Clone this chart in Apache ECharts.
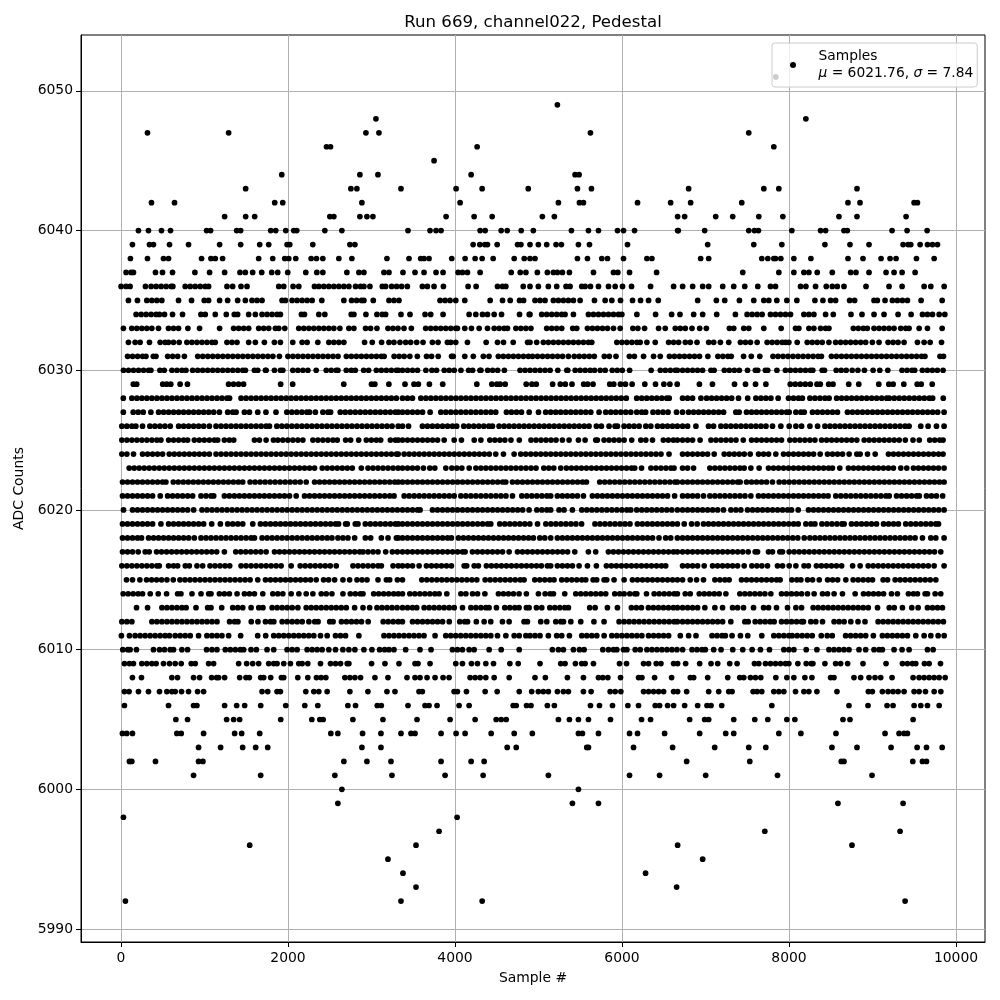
<!DOCTYPE html>
<html><head><meta charset="utf-8">
<style>html,body{margin:0;padding:0;background:#fff}#c{width:1000px;height:1000px}</style>
<script src="https://cdn.jsdelivr.net/npm/echarts@6/dist/echarts.min.js"></script>
</head><body><div id="c"></div>
<script>
const xTicks=[0,2000,4000,6000,8000,10000];
const yTicks=[5990,6000,6010,6020,6030,6040,6050];
const a5992=[53,3353,4325,9390];
const a5993=[3533,6654];
const a5994=[3377,6282];
const a5995=[3197,6966];
const a5996=[1541,3533,6666,8754];
const a5997=[3809,7710,9330];
const a5998=[29,4025];
const a5999=[2597,5406,5718,8586,9366];
const a6000=[2645,5478];
const a6001=[869,1673,2561,3245,3881,4337,5118,6090,6450,7002,7862,8994];
const a6002=[101,129,413,929,981,2669,2945,3233,3833,4193,4349,6774,7530,8626,8658,9482,9598,9646];
const a6003=[929,1193,1457,1613,1757,2885,3113,4625,4733,5578,5598,6138,6606,7110,7518,7722,8514,8814,9222,9534,9646,9834];
const a6004=[17,69,137,669,721,989,1361,1445,1661,2513,2597,2893,3113,3353,3473,3521,3833,4013,4121,4433,4709,4926,5478,5526,5718,6090,6186,6510,6930,7242,7338,7878,8142,8562,9150,9318,9378,9418];
const a6005=[657,797,1265,1349,1421,1913,2285,2381,2421,2777,3137,3545,3941,4241,4493,4553,4613,5238,5370,5478,5598,5862,6234,6342,6810,6990,7038,7338,7590,7746,7974,8070,8646,8730,9486];
const a6006=[41,569,869,909,1241,1385,1481,1673,1973,2201,2357,2717,2809,3069,3117,3437,3641,3689,3785,4049,4169,4697,4733,4857,4910,5106,5190,5622,5730,5886,6070,6198,6398,6450,6546,6618,6750,6906,7018,7066,7194,7794,8718,8946,9174,9246,9498,9578,9658,9798];
const a6007=[41,97,209,329,461,549,609,649,725,809,917,989,1689,1757,1869,1909,2213,2309,2369,2469,2741,2957,3185,3281,3569,3609,3989,4029,4137,4361,4505,4769,4918,4998,5058,5118,5226,5298,5358,5538,5630,5858,5918,5986,6258,6318,6378,6438,6498,6618,6666,6774,7038,7158,7278,7318,7570,7618,7674,7818,7878,7938,8078,8178,8238,8334,8574,8950,8998,9118,9186,9246,9306,9378,9498,9558,9634,9738,9818];
const a6008=[137,245,609,677,869,941,1085,1145,1169,1241,1421,1497,1537,1673,1709,1793,1921,1949,2117,2237,2341,2397,2453,2681,2741,2801,2869,3041,3197,3425,3521,3581,3665,3761,3857,3929,4181,4241,4301,4369,4469,4649,4958,5082,5346,5538,5718,5770,5830,5982,6198,6238,6390,6594,6818,6858,7026,7266,7410,7458,7538,7598,7662,7842,7974,8058,8190,8274,8498,8538,8778,8858,8958,9030,9098,9234,9486,9558,9618,9678,9738,9798,9870];
const a6009=[41,101,149,249,309,369,421,509,581,649,721,841,889,1049,1109,1409,1505,1577,1649,1769,1829,1869,1949,2029,2129,2169,2237,2389,2509,2569,2629,2709,2729,3001,3161,3329,3521,3557,3701,4009,4089,4197,4269,4369,4461,4657,4757,5018,5266,5318,5442,5518,5558,5658,5970,6054,6258,6318,6410,6466,6618,6666,6762,6930,7066,7146,7290,7378,7586,7638,7718,7778,7838,7898,7958,7998,8106,8206,8266,8286,8430,8558,8618,8702,8886,9162,9358,9418,9478,9518,9622,9678,9814];
const a6010=[21,81,109,185,389,461,521,589,629,729,797,1025,1089,1149,1249,1309,1369,1429,1469,1557,1621,1749,1829,1989,2049,2109,2229,2289,2349,2409,2489,2569,2657,2729,2801,2909,3005,3097,3157,3209,3269,3409,3581,3713,3969,4029,4089,4169,4229,4409,4553,4769,5166,5238,5298,5418,5490,5546,5770,5838,5898,5938,6018,6058,6158,6218,6298,6358,6418,6478,6538,6598,6658,6726,6838,6898,6958,6998,7098,7186,7326,7446,7558,7658,7766,7938,7998,8058,8206,8334,8478,8538,8598,8658,8718,8838,8918,9018,9078,9118,9258,9354,9438,9658,9726];
const a6011=[5,101,169,229,289,349,409,469,529,581,649,709,769,829,929,1029,1089,1149,1209,1289,1433,1637,1733,1829,1889,1949,2009,2069,2129,2189,2249,2309,2389,2469,2569,2629,2689,2849,3149,3209,3269,3329,3389,3449,3509,3569,3629,3761,3889,3949,4009,4069,4129,4189,4249,4309,4369,4429,4509,4609,4709,4769,4849,4898,4958,5018,5118,5218,5278,5370,5518,5578,5638,5698,5786,5878,5938,5998,6058,6118,6178,6238,6318,6378,6438,6498,6558,6698,6798,6886,7078,7138,7198,7238,7318,7418,7506,7674,7818,7878,7938,7998,8038,8098,8158,8218,8278,8386,8458,8518,8678,8738,8798,8858,8918,9010,9118,9178,9238,9298,9358,9418,9518,9618,9698,9786,9858];
const a6012=[10,70,130,370,430,490,550,610,670,730,790,850,910,970,1030,1090,1150,1300,1360,1400,1560,1640,1730,1790,1830,1930,1990,2050,2110,2170,2250,2320,2360,2500,2540,2640,2700,2760,2820,2880,2960,3140,3200,3260,3320,3370,3491,3551,3611,3671,3731,3791,3851,3931,4057,4117,4150,4255,4349,4428,4568,4648,4827,4867,5027,5099,5207,5267,5299,5387,5506,5664,5785,5965,6025,6085,6145,6205,6265,6325,6385,6445,6505,6565,6625,6663,6725,6785,6845,6905,6965,7025,7085,7145,7205,7303,7471,7511,7595,7655,7715,7775,7822,7910,7970,8030,8090,8150,8173,8261,8321,8401,8540,8600,8660,8740,8826,8910,9067,9127,9187,9247,9307,9367,9427,9487,9547,9607,9667,9727,9787,9849];
const a6013=[186,318,490,550,610,670,730,780,898,1038,1078,1206,1338,1398,1458,1558,1650,1700,1810,1870,1930,1990,2050,2118,2218,2278,2338,2398,2458,2518,2578,2638,2698,2798,2898,2978,3066,3126,3186,3246,3306,3371,3431,3491,3542,3630,3690,3750,3810,3870,3930,3990,4090,4190,4250,4310,4370,4408,4496,4596,4656,4716,4767,4855,4887,4975,5039,5135,5195,5255,5315,5358,5613,5678,5825,5945,6112,6172,6232,6316,6376,6436,6496,6556,6616,6663,6725,6785,6845,6905,6992,7112,7204,7324,7384,7455,7575,7695,7755,7850,7982,8082,8150,8289,8349,8409,8469,8529,8589,8649,8709,8769,8829,8889,8949,9060,9200,9260,9358,9470,9546,9658,9718,9778,9837];
const a6014=[26,86,146,206,258,350,446,546,678,718,850,958,1050,1078,1178,1238,1298,1390,1478,1538,1598,1698,1818,1878,1938,2038,2130,2218,2298,2398,2458,2526,2658,2746,2806,2866,2898,3026,3086,3146,3206,3266,3320,3371,3459,3519,3579,3639,3699,3759,3810,3902,4070,4130,4210,4270,4358,4520,4580,4640,4700,4767,4855,4999,5079,5139,5179,5314,5446,5506,5566,5626,5686,5746,5805,5913,5973,6025,6093,6153,6177,6293,6385,6445,6505,6565,6625,6663,6757,6817,6925,6985,7045,7105,7164,7244,7411,7471,7531,7591,7651,7711,7782,7910,7970,8030,8090,8150,8221,8301,8401,8461,8540,8640,8792,8892,8952,9012,9072,9132,9227,9298,9430,9490,9538,9630,9658,9750,9817];
const a6015=[66,138,226,306,366,426,486,550,626,706,766,826,886,946,1006,1066,1126,1186,1246,1306,1366,1426,1486,1546,1638,1730,1790,1850,1910,1970,2030,2090,2150,2210,2270,2338,2426,2486,2558,2658,2738,2826,2886,2946,3078,3178,3218,3310,3371,3602,3662,3722,3782,3842,3902,3962,4022,4082,4142,4202,4261,4361,4421,4481,4541,4601,4661,4721,4781,4827,4955,5015,5075,5135,5186,5278,5338,5398,5458,5518,5566,5654,5697,5785,5817,5905,6025,6125,6185,6245,6305,6365,6425,6485,6545,6605,6663,6725,6817,6893,6976,7112,7172,7232,7283,7431,7491,7551,7611,7671,7731,7791,7851,7894,8034,8094,8142,8222,8282,8362,8462,8522,8582,8680,8768,8828,8888,8948,9000,9127,9180,9271,9331,9391,9451,9511,9571,9631,9691,9758];
const a6016=[10,70,130,190,250,310,370,430,458,570,630,678,770,818,910,978,1066,1126,1186,1246,1302,1438,1498,1558,1618,1678,1738,1798,1858,1918,2038,2146,2206,2266,2326,2386,2446,2506,2578,2778,2838,2898,2958,3018,3078,3118,3258,3320,3371,3431,3491,3570,3658,3718,3778,3838,3898,3957,4110,4140,4230,4280,4376,4436,4496,4556,4616,4676,4736,4796,4856,4916,4976,5034,5106,5146,5226,5286,5346,5406,5486,5586,5693,5813,5873,5933,5993,6053,6113,6173,6233,6293,6353,6413,6473,6523,6725,6785,6845,6905,6984,7084,7144,7204,7264,7324,7384,7463,7555,7615,7675,7742,7862,7922,8002,8082,8180,8232,8328,8388,8448,8508,8568,8630,8762,8852,8948,9008,9068,9128,9188,9248,9308,9368,9428,9488,9548,9608,9668,9738,9857];
const a6017=[18,78,138,206,290,338,426,486,546,606,666,726,786,846,906,966,1026,1086,1146,1238,1374,1434,1494,1554,1614,1674,1738,1838,1898,1958,2018,2078,2138,2198,2258,2318,2378,2438,2498,2558,2618,2678,2738,2798,2858,2898,2958,3018,3078,3170,3250,3310,3371,3431,3491,3551,3611,3671,3731,3791,3851,3911,3971,4031,4091,4121,4209,4269,4329,4389,4449,4509,4569,4648,4748,4808,4868,4928,4988,5048,5108,5168,5228,5288,5348,5434,5597,5685,5837,5897,5957,6017,6077,6137,6197,6257,6317,6377,6437,6497,6557,6617,6663,6725,6785,6845,6905,6965,7025,7085,7145,7205,7265,7325,7385,7445,7511,7595,7623,7754,7802,7890,7922,8002,8062,8122,8182,8242,8302,8362,8422,8482,8542,8602,8662,8722,8782,8842,8902,8962,9022,9082,9142,9202,9262,9322,9382,9442,9502,9562,9622,9682,9742,9817];
const a6018=[18,78,138,198,246,330,390,450,510,570,630,690,750,810,878,958,1018,1078,1138,1198,1258,1318,1378,1438,1498,1558,1598,1690,1750,1810,1870,1930,1990,2050,2110,2170,2230,2290,2350,2410,2470,2526,2598,2658,2718,2798,2926,2990,3118,3198,3298,3320,3371,3431,3491,3551,3611,3671,3731,3791,3851,3911,3957,4041,4101,4161,4221,4281,4341,4401,4461,4521,4581,4641,4701,4761,4821,4881,4939,5015,5075,5146,5226,5286,5346,5406,5466,5526,5586,5646,5706,5766,5826,5886,5946,6006,6066,6126,6186,6246,6306,6366,6443,6523,6583,6663,6725,6785,6845,6905,6965,7025,7085,7145,7205,7265,7325,7385,7445,7505,7565,7625,7685,7745,7805,7865,7925,7985,8045,8105,8182,8250,8310,8370,8430,8490,8550,8610,8670,8730,8790,8850,8910,8970,9030,9090,9150,9210,9270,9330,9390,9450,9510,9598,9698,9758,9857];
const a6019=[18,78,138,198,258,318,378,478,570,630,690,750,810,870,930,990,1086,1190,1278,1338,1398,1458,1578,1670,1730,1790,1850,1910,1970,2030,2090,2150,2210,2270,2330,2390,2450,2510,2570,2606,2690,2710,2806,2838,2926,2986,3046,3106,3166,3226,3286,3320,3371,3431,3491,3551,3611,3671,3731,3791,3851,3911,3971,4031,4091,4151,4211,4271,4331,4391,4428,4536,4596,4656,4716,4776,4836,4896,4988,5088,5148,5208,5268,5328,5388,5448,5516,5676,5736,5796,5856,5916,5976,6036,6095,6184,6244,6304,6364,6424,6484,6544,6604,6663,6745,6833,6900,6976,7036,7096,7156,7216,7276,7336,7396,7456,7516,7576,7636,7696,7756,7816,7876,7936,7996,8056,8110,8202,8262,8310,8394,8454,8514,8574,8634,8660,8748,8808,8868,8928,8988,9048,9132,9192,9252,9310,9398,9458,9518,9578,9638,9698,9758,9790];
const a6020=[30,138,198,258,318,378,438,498,558,618,678,738,798,870,970,1030,1090,1150,1210,1270,1330,1390,1450,1510,1570,1630,1690,1750,1810,1870,1930,1990,2050,2110,2170,2230,2290,2350,2410,2470,2530,2590,2650,2710,2770,2830,2890,2950,3010,3070,3130,3190,3250,3310,3371,3431,3491,3551,3582,3730,3790,3850,3910,3970,4030,4090,4150,4210,4270,4330,4390,4450,4510,4570,4630,4690,4750,4810,4887,4980,5040,5100,5146,5246,5306,5406,5518,5578,5638,5698,5758,5818,5878,5938,5998,6058,6105,6176,6236,6296,6356,6416,6476,6536,6596,6663,6725,6785,6845,6905,6965,7025,7085,7145,7215,7304,7364,7423,7503,7563,7623,7683,7743,7803,7863,7923,7983,8030,8110,8233,8293,8353,8413,8473,8533,8593,8653,8713,8773,8833,8893,8953,9013,9073,9133,9193,9253,9313,9373,9433,9493,9553,9613,9673,9733,9793,9857];
const a6021=[18,78,138,198,258,318,378,470,558,618,678,738,798,858,958,1018,1078,1110,1238,1298,1358,1418,1478,1538,1598,1658,1718,1778,1838,1898,1958,2018,2098,2198,2258,2318,2378,2438,2498,2558,2618,2678,2738,2798,2858,2918,2978,3038,3098,3158,3218,3270,3391,3451,3511,3571,3631,3691,3751,3811,3871,3931,3990,4070,4130,4190,4250,4310,4370,4430,4490,4550,4610,4688,4800,4860,4920,4980,5040,5100,5146,5226,5286,5346,5406,5466,5538,5645,5705,5765,5825,5885,5945,6005,6065,6125,6185,6245,6305,6365,6425,6485,6545,6630,6725,6785,6845,6905,6976,7052,7112,7172,7232,7292,7352,7412,7472,7543,7634,7694,7754,7814,7874,7934,7994,8054,8114,8174,8234,8294,8354,8414,8468,8560,8620,8680,8740,8800,8860,8920,8980,9040,9100,9160,9200,9288,9348,9408,9468,9528,9560,9646,9706,9766,9840];
const a6022=[18,78,138,198,258,318,378,438,498,538,626,686,746,806,866,926,986,1046,1106,1166,1226,1286,1346,1406,1458,1546,1606,1666,1726,1786,1846,1906,1966,2026,2086,2146,2218,2318,2378,2438,2498,2558,2618,2678,2738,2798,2858,2918,2978,3038,3098,3158,3218,3278,3320,3371,3431,3491,3551,3611,3671,3731,3791,3851,3911,3971,4031,4091,4151,4211,4271,4331,4391,4451,4511,4571,4608,4688,4748,4808,4868,4928,4988,5048,5108,5168,5228,5288,5348,5408,5468,5528,5574,5733,5793,5853,5913,5973,6033,6093,6153,6213,6273,6333,6393,6453,6513,6573,6633,6663,6725,6785,6845,6905,6965,7025,7085,7145,7205,7265,7325,7385,7415,7491,7551,7611,7671,7731,7802,7882,7942,8002,8062,8122,8182,8242,8302,8362,8422,8482,8542,8602,8662,8722,8782,8842,8902,8962,9022,9082,9142,9202,9262,9322,9382,9442,9502,9562,9622,9682,9742,9802,9857];
const a6023=[98,158,218,278,338,398,458,518,578,638,698,758,818,878,938,998,1058,1118,1178,1238,1298,1358,1418,1478,1538,1598,1658,1718,1778,1838,1898,1958,2018,2078,2138,2198,2258,2318,2410,2470,2530,2590,2650,2710,2770,2878,2958,3018,3078,3138,3198,3258,3318,3371,3431,3491,3551,3622,3698,3758,3890,3962,4022,4082,4170,4250,4310,4370,4430,4490,4550,4610,4670,4730,4790,4850,4910,4970,5063,5123,5183,5266,5334,5394,5454,5514,5574,5634,5694,5754,5814,5874,5934,5994,6054,6114,6152,6234,6346,6406,6466,6526,6586,6623,6725,6785,6857,7052,7112,7172,7232,7292,7352,7412,7463,7543,7642,7754,7814,7874,7934,7994,8054,8114,8174,8234,8294,8354,8414,8474,8520,8608,8712,8772,8832,8892,8952,9012,9070,9130,9190,9250,9338,9410,9490,9550,9610,9670,9730,9790,9857];
const a6024=[10,70,150,258,318,378,438,498,578,638,698,758,818,878,938,998,1058,1138,1198,1258,1318,1378,1438,1498,1558,1618,1678,1738,1798,1858,1918,1978,2038,2098,2158,2218,2278,2338,2398,2458,2518,2578,2638,2698,2758,2818,2878,2938,2998,3058,3118,3178,3238,3298,3320,3391,3451,3511,3571,3631,3691,3751,3811,3871,3931,3991,4051,4111,4171,4231,4291,4351,4411,4488,4580,4708,4787,4847,4907,4967,5027,5087,5147,5207,5267,5327,5387,5447,5507,5567,5627,5687,5747,5807,5867,5927,5987,6047,6107,6167,6227,6287,6347,6407,6467,6563,6725,6785,6845,6905,6965,7025,7104,7224,7284,7344,7404,7464,7535,7635,7695,7755,7842,7934,7994,8054,8114,8174,8234,8294,8373,8461,8521,8581,8641,8720,8812,8852,8940,9032,9191,9251,9311,9371,9431,9491,9551,9611,9671,9731,9791,9845];
const a6025=[10,70,130,190,250,310,370,430,478,570,630,690,750,798,878,938,998,1058,1118,1158,1238,1298,1350,1598,1658,1738,1826,1878,1938,1998,2058,2118,2178,2298,2358,2418,2478,2538,2590,2690,2750,2846,2938,2998,3058,3110,3226,3286,3320,3371,3431,3491,3551,3611,3671,3731,3791,3870,3990,4077,4230,4310,4417,4477,4537,4597,4670,4770,4910,4970,5030,5090,5150,5210,5286,5366,5478,5558,5685,5705,5785,5845,5905,5965,6025,6116,6225,6285,6365,6495,6555,6615,6663,6725,6785,6845,6935,7065,7125,7185,7245,7305,7365,7452,7551,7611,7671,7731,7791,7851,7910,8010,8070,8130,8190,8250,8310,8390,8450,8510,8570,8630,8690,8750,8812,8900,8960,9020,9080,9140,9200,9260,9320,9393,9485,9560,9685,9745,9805,9845];
const a6026=[10,70,130,178,258,346,406,466,526,590,690,750,810,870,930,990,1058,1138,1198,1258,1318,1378,1438,1498,1558,1618,1678,1738,1778,1866,1926,1986,2046,2106,2166,2226,2286,2346,2406,2466,2526,2586,2646,2706,2766,2826,2886,2946,3006,3066,3126,3186,3246,3320,3371,3443,3610,3670,3730,3790,3850,3910,3970,4020,4105,4165,4225,4285,4345,4405,4448,4528,4588,4648,4708,4768,4828,4888,4948,5008,5068,5128,5188,5248,5308,5368,5428,5488,5548,5605,5693,5753,5845,5917,5945,6025,6085,6145,6205,6285,6345,6425,6485,6545,6605,6663,6725,6785,6885,7036,7096,7184,7244,7304,7364,7424,7484,7544,7604,7664,7724,7802,7902,8002,8082,8150,8250,8342,8430,8490,8550,8610,8670,8730,8790,8850,8910,8970,9030,9090,9150,9210,9270,9330,9390,9438,9578,9666,9766,9857];
const a6027=[28,146,206,266,358,450,510,570,630,690,750,810,870,930,990,1050,1110,1178,1278,1338,1378,1478,1538,1638,1736,1856,1986,2046,2106,2166,2226,2258,2328,2418,2478,2510,2626,2686,2746,2806,2866,2926,2986,3046,3106,3166,3226,3286,3320,3371,3431,3491,3551,3611,3702,3830,3890,3950,4010,4070,4130,4190,4250,4310,4370,4430,4488,4616,4676,4736,4796,4888,5000,5086,5146,5206,5266,5326,5386,5446,5506,5566,5626,5725,5805,5865,5925,5985,6045,6105,6176,6236,6283,6371,6431,6491,6551,6653,6725,6797,6857,6917,6977,7037,7097,7157,7216,7363,7403,7491,7551,7611,7671,7731,7791,7851,7911,7971,8002,8082,8142,8182,8281,8341,8401,8461,8521,8580,8700,8760,8820,8880,8940,9000,9060,9120,9180,9240,9300,9360,9420,9480,9540,9600,9660,9720,9780,9857];
const a6028=[28,130,190,250,310,370,430,490,550,610,670,730,790,850,910,970,1030,1090,1150,1210,1270,1300,1438,1498,1558,1618,1678,1738,1798,1858,1918,1978,2038,2098,2158,2218,2278,2338,2398,2458,2518,2578,2638,2698,2758,2818,2878,2938,2998,3058,3118,3178,3238,3298,3371,3431,3490,3591,3651,3711,3771,3831,3891,3951,4011,4071,4131,4191,4251,4311,4371,4431,4491,4551,4611,4671,4731,4791,4851,4911,4971,5031,5091,5151,5211,5271,5331,5391,5451,5511,5571,5631,5691,5751,5811,5871,5931,5991,6051,6176,6236,6296,6356,6416,6476,6536,6565,6725,6785,6845,6945,7013,7073,7133,7193,7253,7313,7395,7505,7603,7663,7723,7783,7870,7994,8054,8114,8160,8250,8310,8370,8430,8480,8570,8630,8690,8750,8810,8870,8930,8990,9050,9110,9170,9200,9260,9320,9380,9440,9500,9560,9620,9680,9720,9847];
const a6029=[148,188,500,548,596,708,796,1288,1348,1408,1468,1912,2056,2668,3000,3040,3208,3401,3509,3561,3693,3853,4261,4441,4501,4541,4601,4853,4921,4973,5169,5261,5321,5401,5541,5589,5653,5853,5901,5981,6041,6121,6273,6401,6501,6573,6661,6927,7083,7347,7479,7599,7723,8015,8075,8135,8195,8255,8335,8375,8475,8527,8715,8835,9075,9195,9247,9375,9535,9583,9715];
const a6030=[30,90,150,210,270,330,358,466,518,610,670,730,778,858,918,978,1038,1098,1158,1218,1278,1338,1398,1458,1490,1598,1638,1730,1738,1838,1910,1938,2058,2118,2178,2238,2338,2458,2518,2578,2598,2698,2758,2806,2906,2966,3058,3118,3178,3238,3298,3320,3371,3431,3491,3551,3651,3723,3779,3871,3931,3991,4071,4163,4211,4299,4311,4391,4451,4511,4591,4779,4839,4899,4959,5019,5079,5139,5231,5339,5351,5439,5499,5559,5619,5671,5739,5799,5883,5943,6003,6091,6349,6459,6519,6579,6639,6663,6725,6785,6845,6905,6965,7065,7103,7225,7285,7345,7405,7503,7597,7625,7717,7745,7855,7957,8017,8077,8137,8197,8257,8285,8397,8425,8565,8625,8685,8757,8825,8903,9007,9087,9183,9353,9413,9473,9505,9597,9657,9717,9777,9845];
const a6031=[79,139,199,259,299,387,419,559,619,679,759,919,979,1039,1099,1159,1219,1279,1339,1399,1459,1519,1579,1639,1699,1759,1819,1897,1999,2059,2119,2179,2239,2299,2359,2419,2479,2539,2599,2699,2759,2819,2879,2939,2999,3059,3119,3151,3271,3331,3391,3459,3549,3659,3719,3799,3959,3979,4117,4219,4339,4407,4519,4579,4639,4699,4759,4819,4879,4928,4988,5048,5108,5168,5228,5288,5358,5428,5488,5548,5608,5668,5788,5848,5928,6088,6148,6258,6378,6458,6568,6628,6688,6748,6808,6868,6928,7028,7148,7208,7268,7308,7456,7548,7650,7808,7868,7928,7988,8048,8108,8168,8228,8288,8348,8388,8508,8568,8628,8688,8748,8808,8868,8928,8988,9048,9108,9168,9228,9288,9348,9408,9468,9528,9588,9628,9808,9850];
const a6032=[89,169,229,341,469,529,569,629,697,789,849,909,969,1029,1089,1129,1269,1329,1389,1529,1609,1717,1837,1909,2057,2169,2229,2357,2489,2549,2609,2669,2917,3009,3121,3209,3269,3341,3409,3469,3541,3617,3729,3797,3909,3949,4009,4149,4373,4509,4581,4697,4869,4898,4978,5058,5118,5178,5238,5298,5358,5418,5478,5538,5598,5638,5938,5998,6058,6118,6178,6218,6298,6398,6558,6618,6678,6758,6818,6898,7038,7098,7178,7278,7418,7478,7538,7618,7738,7798,7858,7918,7958,7998,8098,8218,8278,8338,8398,8478,8558,8618,8678,8738,8798,8858,8918,8998,9078,9186,9246,9306,9378,9538,9618,9690,9826];
const a6033=[29,129,189,249,309,369,449,569,629,689,801,941,1181,1349,1409,1469,1529,1649,1709,1769,1849,1889,1961,2129,2189,2249,2309,2369,2429,2489,2549,2621,2729,2789,2929,2989,3065,3197,3257,3317,3389,3477,3649,3709,3769,3829,3889,3949,4009,4029,4117,4197,4289,4389,4469,4529,4589,4629,4729,4789,4849,4909,5098,5158,5218,5278,5410,5458,5586,5646,5706,5766,5826,5898,5978,6130,6190,6270,6438,6518,6638,6698,6758,6838,6930,7010,7286,7338,7458,7518,7698,7906,8078,8118,8238,8298,8378,8438,8478,8770,8830,8890,8938,9018,9078,9138,9198,9258,9338,9398,9438,9558,9658,9834];
const a6034=[181,241,301,361,421,461,521,617,737,957,1009,1129,1261,1357,1397,1529,1609,1689,1749,1809,1869,1909,2161,2197,2369,2441,2757,2789,2933,3065,3129,3169,3353,3461,3641,3709,3857,4169,4249,4329,4389,4469,4557,4773,4889,4898,5038,5098,5158,5218,5278,5318,5418,5598,5658,5718,5778,5838,5898,5958,5998,6178,6402,6594,6694,6858,6966,7134,7358,7498,7558,7618,7678,7778,7838,7898,7958,8018,8178,8238,8298,8438,8530,8742,8874,9018,9138,9306,9462,9598,9658,9718,9798,9866];
const a6035=[89,197,309,369,429,489,689,845,997,1049,1181,1277,1397,1489,1569,1629,1689,1929,1969,2049,2109,2169,2229,2289,2405,2669,2761,2821,2881,2909,3021,3209,3269,3329,3821,3881,3941,4009,4117,4421,4569,4661,4773,4821,4958,5018,5078,5178,5238,5298,5358,5418,5498,5670,5798,5878,5982,6126,6222,6318,6434,6906,7130,7230,7406,7578,7698,7758,7854,7974,8094,8310,8406,8498,8558,8726,8786,9018,9058,9150,9238,9298,9358,9418,9582,9834];
const a6036=[1,61,109,293,361,421,481,541,601,621,769,829,889,949,1009,1049,1269,1337,1437,1509,1889,1949,2061,2129,2317,2369,2429,2489,2549,2609,2669,2729,2809,2869,2909,2981,3129,3169,3241,3301,3361,3429,3609,3669,3749,3861,4157,4253,4509,4569,4609,4817,4898,4998,5118,5218,5330,5378,5518,5558,5622,5718,5838,5918,6006,6114,6342,6618,6726,6846,6966,7038,7206,7338,7470,7626,7778,7838,8138,8202,8318,8446,8518,8578,8658,8922,9198,9354,9618,9698,9858];
const a6037=[61,121,149,413,497,617,885,1061,1241,1425,1489,1577,1685,1805,1877,1997,2213,2345,2417,2705,2849,2909,3149,3209,3377,3521,3629,3773,3857,4037,4089,4149,4301,4673,4781,4849,4986,5106,5178,5226,5286,5370,5658,5898,5950,6090,6414,7446,7878,8058,8178,8238,8338,8518,8738,8802,8958,9162,9258,9354,9510];
const a6038=[113,317,509,569,965,1077,1129,1217,1649,1817,1961,2009,2093,2277,2341,2417,2609,2765,3185,3449,3589,3629,3689,3961,4121,4241,4325,4457,4709,4829,4898,4958,5466,5586,5758,5826,6018,6298,6358,6942,7038,7674,7746,7818,7838,7902,8058,8262,8706,8886,9102,9210,9282,9526,9738];
const a6039=[137,341,389,581,809,1181,1433,1661,1769,1989,2021,2297,2741,2801,4217,4297,4357,4389,4505,4749,4789,4898,4998,5098,5210,5274,5478,5610,6066,7026,7578,7914,8430,8730,8958,9366,9426,9458,9570,9658,9718,9778];
const a6040=[209,329,485,593,1025,1073,1385,1433,1793,1853,1973,2069,2105,2441,2645,3437,3701,3773,3833,4301,4361,4553,4625,4793,4938,5394,5598,5718,5946,6018,6150,6666,6674,6990,7518,7586,7634,8034,8378,8438,8658,8698,9234,9414,9654];
const a6041=[1241,1493,1601,2501,2549,2861,2945,3017,3893,4229,4445,5046,5190,6666,6750,7122,7326,7638,7926,8598,8814,9402];
const a6042=[365,641,1841,1937,2885,4061,5238,5490,5538,6186,6582,6822,7434,8706,8850,9498,9538];
const a6043=[1493,2753,2825,3353,4013,4325,4877,5466,5634,6798,7698,7878,8814];
const a6044=[1925,2861,3077,4193,5438,5486];
const a6045=[3749];
const a6046=[2461,2509,4265,7818];
const a6047=[317,1289,2933,3089,5622,7518];
const a6048=[3053,8202];
const a6049=[5226];
const a6051=[7842];

const levels=[5992,5993,5994,5995,5996,5997,5998,5999,6000,6001,6002,6003,6004,6005,6006,6007,6008,6009,6010,6011,6012,6013,6014,6015,6016,6017,6018,6019,6020,6021,6022,6023,6024,6025,6026,6027,6028,6029,6030,6031,6032,6033,6034,6035,6036,6037,6038,6039,6040,6041,6042,6043,6044,6045,6046,6047,6048,6049,6051];
const rows=[a5992,a5993,a5994,a5995,a5996,a5997,a5998,a5999,a6000,a6001,a6002,a6003,a6004,a6005,a6006,a6007,a6008,a6009,a6010,a6011,a6012,a6013,a6014,a6015,a6016,a6017,a6018,a6019,a6020,a6021,a6022,a6023,a6024,a6025,a6026,a6027,a6028,a6029,a6030,a6031,a6032,a6033,a6034,a6035,a6036,a6037,a6038,a6039,a6040,a6041,a6042,a6043,a6044,a6045,a6046,a6047,a6048,a6049,a6051];
const points=[];
rows.forEach((r,i)=>r.forEach(x=>points.push([x,levels[i]])));
const font='"DejaVu Sans"';
const chart=echarts.init(document.getElementById('c'),null,{renderer:'canvas'});
chart.setOption({
 animation:false,
 backgroundColor:'#fff',
 textStyle:{fontFamily:font},
 title:{text:'Run 669, channel022, Pedestal',left:528,top:9,textAlign:'center',textStyle:{fontFamily:font,fontSize:16.6,fontWeight:'normal',color:'#000',lineHeight:18}},
 grid:{left:81,top:35,width:904,height:907,show:true,borderColor:'#000',borderWidth:1,backgroundColor:'transparent'},
 legend:{left:772,top:43,orient:'vertical',padding:[5,4,5,18],itemWidth:41,itemHeight:6,icon:'circle',symbolKeepAspect:true,
  backgroundColor:'rgba(255,255,255,0.8)',borderColor:'#ccc',borderWidth:1,borderRadius:3,z:20,
  formatter:()=>'Samples\n{i|μ} = 6021.76, {i|σ} = 7.84',
  textStyle:{fontFamily:font,fontSize:13.8,color:'#000',lineHeight:17,rich:{i:{fontStyle:'italic',fontFamily:font,fontSize:13.8,color:'#000'}}},
  data:['Samples']},
 xAxis:{type:'value',min:-479,max:10347,name:'Sample #',nameLocation:'middle',nameGap:29,nameTextStyle:{fontFamily:font,fontSize:13.9,color:'#000'},
  axisLine:{show:true,onZero:false,lineStyle:{color:'#000'}},
  axisTick:{show:true,length:5,customValues:xTicks,lineStyle:{color:'#000'}},
  axisLabel:{customValues:xTicks,color:'#000',fontFamily:font,fontSize:13.9,margin:9,formatter:v=>String(v)},
  splitLine:{show:true,lineStyle:{color:'#b0b0b0',width:1}}},
 yAxis:{type:'value',min:5989.07,max:6054,name:'ADC Counts',nameLocation:'middle',nameGap:53,nameTextStyle:{fontFamily:font,fontSize:13.9,color:'#000'},
  axisLine:{show:true,onZero:false,lineStyle:{color:'#000'}},
  axisTick:{show:true,length:5,customValues:yTicks,lineStyle:{color:'#000'}},
  axisLabel:{customValues:yTicks,color:'#000',fontFamily:font,fontSize:13.9,margin:8,formatter:v=>String(v)},
  splitLine:{show:true,lineStyle:{color:'#b0b0b0',width:1}}},
 series:[{name:'Samples',type:'scatter',data:points,symbol:'circle',symbolSize:5.7,large:false,itemStyle:{color:'#000',opacity:1},silent:true,z:3}]
});
</script></body></html>
